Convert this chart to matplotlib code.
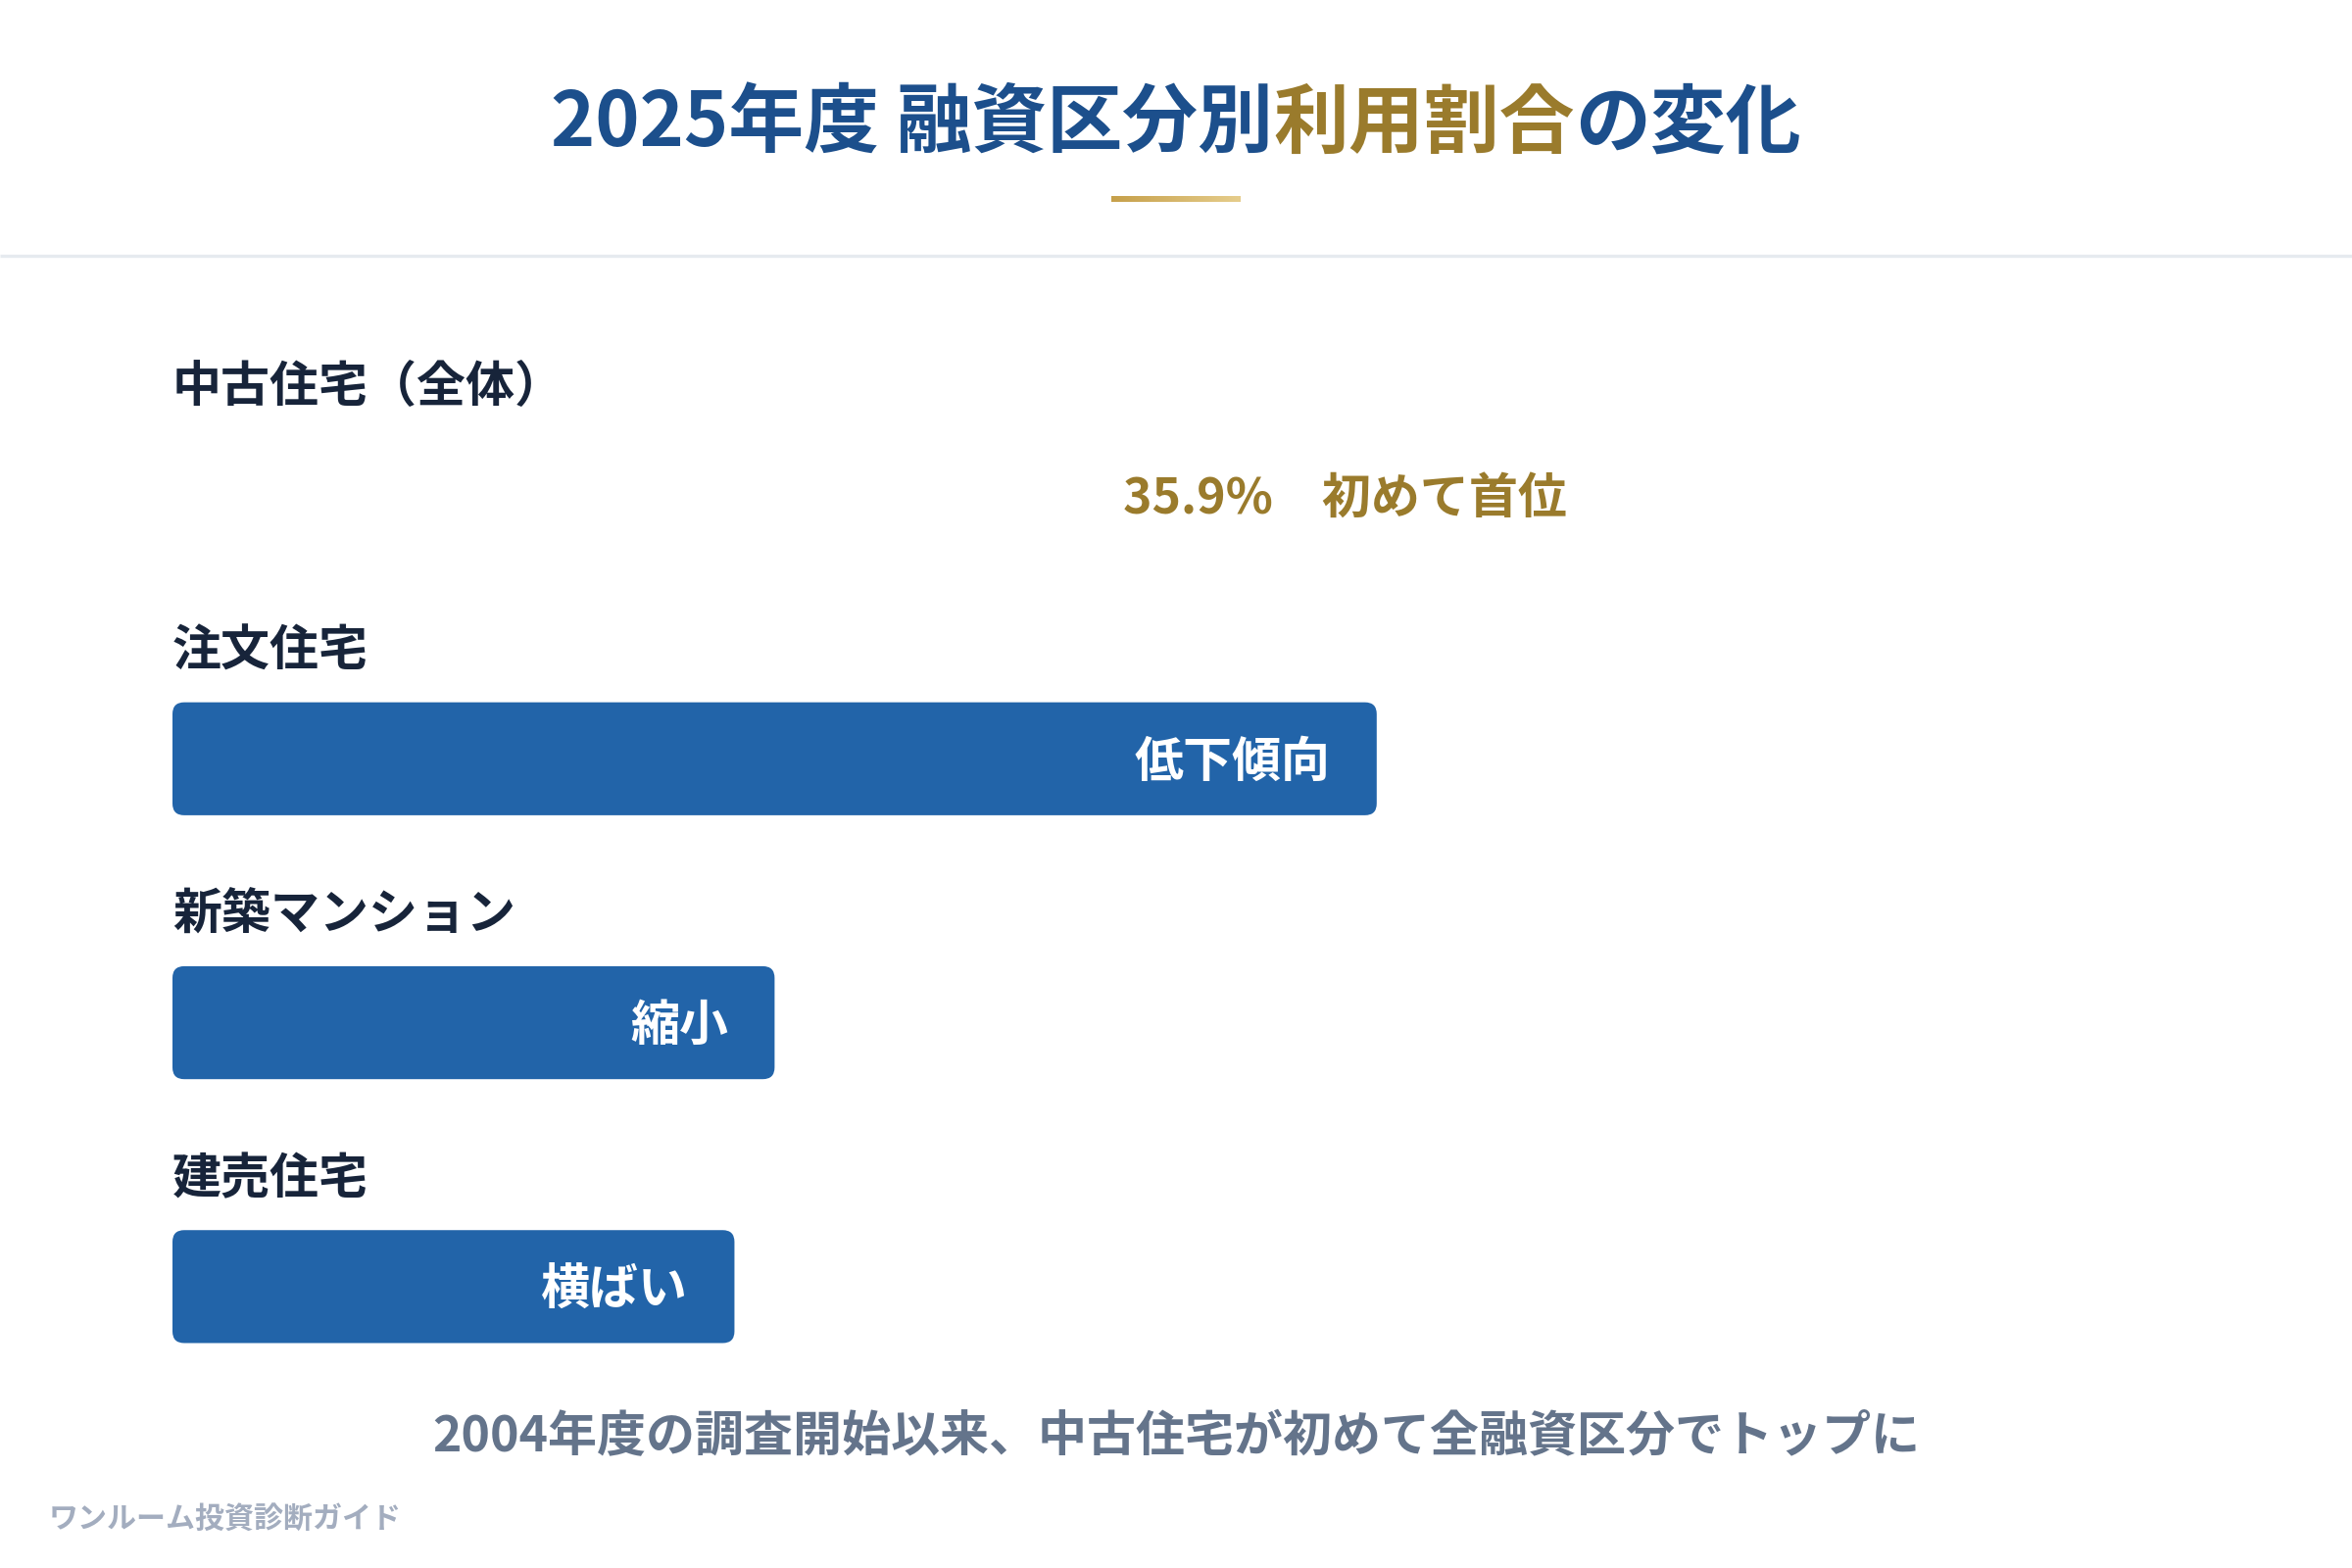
import numpy as np
import matplotlib
matplotlib.use("Agg")
import matplotlib.pyplot as plt
from matplotlib.patches import FancyBboxPatch

plt.rcParams['font.family'] = ['Noto Sans CJK JP', 'DejaVu Sans']

# data
categories = ['中古住宅（全体）', '注文住宅', '新築マンション', '建売住宅']
shares = [35.9, 30.0, 15.0, 14.0]   # 利用割合(%)  表示は中古住宅のみ
bar_notes = ['35.9%\u3000初めて首位', '低下傾向', '縮小', '横ばい']
title_parts = ['2025年度 融資区分別', '利用割合', 'の変化']
subtitle = '2004年度の調査開始以来、中古住宅が初めて全融資区分でトップに'
source = 'ワンルーム投資診断ガイド'

blue = '#1c4f8c'
gold = '#9a7b2c'
bar_blue = '#2264a9'
dark = '#17243a'

W, H = 2400, 1600
fig = plt.figure(figsize=(12, 8), dpi=200)
bg = fig.add_axes([0, 0, 1, 1])
bg.set_xlim(0, W)
bg.set_ylim(H, 0)
bg.axis('off')

# title in three colours
r = fig.canvas.get_renderer()
title_cols = [blue, gold, blue]
txts = []
for s, c in zip(title_parts, title_cols):
    t = bg.text(0, 127, s, fontsize=27.7, fontweight='bold', color=c,
                ha='left', va='center')
    txts.append(t)
widths = [t.get_window_extent(r).width for t in txts]
x = W / 2 - sum(widths) / 2
for t, w in zip(txts, widths):
    t.set_x(x)
    x += w

# gold underline (gradient)
grad = np.linspace(0, 1, 256).reshape(1, -1)
cmap = matplotlib.colors.LinearSegmentedColormap.from_list('g', ['#c6a04a', '#e6cd8c'])
bg.imshow(grad, cmap=cmap, extent=[1134, 1266, 206, 200], aspect='auto', zorder=2)
bg.set_xlim(0, W)
bg.set_ylim(H, 0)

# separator
bg.plot([0, W], [261, 261], color='#e6eaef', lw=1.2, solid_capstyle='butt')

# bars
ax = fig.add_axes([176 / W, 1 - 1447.5 / H, (2224 - 176) / W, (1447.5 - 303) / H])
ax.set_xlim(0, 50)
ax.set_ylim(3.5, -0.75)
ax.axis('off')

bh = 0.428
px_x = 50 / 2048
px_y = 4.25 / 1144.5
for i, (cat, v, note) in enumerate(zip(categories, shares, bar_notes)):
    fc = 'white' if i == 0 else bar_blue
    tc = gold if i == 0 else 'white'
    p = FancyBboxPatch((0, i - bh / 2), v, bh,
                       boxstyle=f"round,pad=0,rounding_size={12 * px_x}",
                       mutation_aspect=px_y / px_x, fc=fc, ec='none')
    ax.add_patch(p)
    ax.text(0, i - 0.405, cat, fontsize=18, fontweight='bold', color=dark,
            ha='left', va='center')
    ax.annotate(note, (v, i + 0.015), xytext=(-17, 0), textcoords='offset points',
                ha='right', va='center', fontsize=18, fontweight='bold', color=tc)

bg.text(W / 2, 1467, subtitle, fontsize=18, fontweight='bold', color='#64748b',
        ha='center', va='center')
bg.text(50, 1550, source, fontsize=10.8, fontweight='bold', color='#a3adbf',
        ha='left', va='center')

fig.savefig('out.png', dpi=200, facecolor='white')
